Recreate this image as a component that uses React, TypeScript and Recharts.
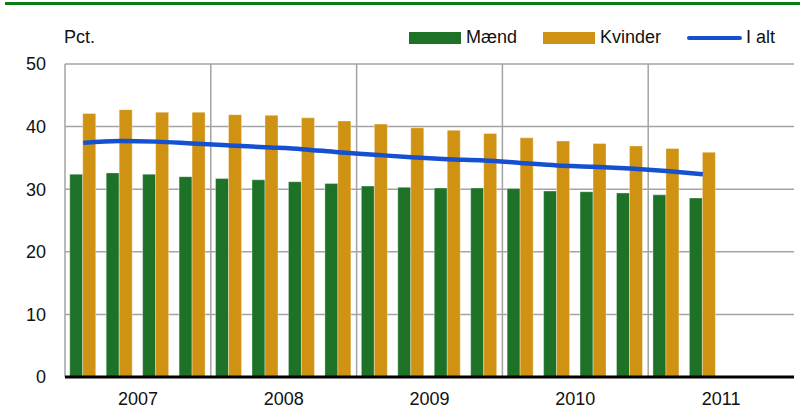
import React from 'react';
import { ComposedChart, Bar, Line, XAxis, YAxis, CartesianGrid, ReferenceLine } from 'recharts';

const YEARS = ['2007', '2008', '2009', '2010', '2011'];
const QUARTERS = YEARS.flatMap((y) => ['K1', 'K2', 'K3', 'K4'].map((q) => `${y}${q}`));

// andel i pct., kvartaler 2007K1 - 2011K2
const MAEND = [32.4, 32.6, 32.4, 32.0, 31.7, 31.5, 31.2, 30.9, 30.5, 30.3, 30.2, 30.2, 30.1, 29.7, 29.6, 29.4, 29.1, 28.6];
const KVINDER = [42.1, 42.7, 42.3, 42.3, 41.9, 41.8, 41.4, 40.9, 40.4, 39.8, 39.4, 38.9, 38.2, 37.7, 37.3, 36.9, 36.5, 35.9];
const I_ALT = [37.4, 37.7, 37.6, 37.3, 37.0, 36.7, 36.4, 35.9, 35.5, 35.1, 34.8, 34.6, 34.2, 33.8, 33.6, 33.3, 32.9, 32.4];

const Y_TICKS = [0, 10, 20, 30, 40, 50];

const GREEN = '#1e7228';
const ORANGE = '#cf9212';
const BLUE = '#1450d0';
const GRID = '#a3a3a3';
const FONT = '"Liberation Sans", Arial, sans-serif';

const data = QUARTERS.map((q, i) => ({
  q,
  maend: MAEND[i] ?? null,
  kvinder: KVINDER[i] ?? null,
  ialt: I_ALT[i] ?? null,
}));

// year label sits between K2 and K3, i.e. at the start of the K3 band
const yearTicks = YEARS.map((y) => `${y}K3`);
const yearStarts = YEARS.map((y) => `${y}K1`);

const YearTick = (props: any) => {
  const { x, y, payload } = props;
  return (
    <text x={x - (payload.offset ?? 0)} y={y} dy="0.71em" textAnchor="middle" fontSize={18} fill="#111" fontFamily={FONT}>
      {String(payload.value).slice(0, 4)}
    </text>
  );
};

const LegendItem = ({ color, label, line }: { color: string; label: string; line?: boolean }) => (
  <div style={{ display: 'flex', alignItems: 'center', marginRight: 26, whiteSpace: 'nowrap' }}>
    <div
      style={{
        width: line ? 55 : 52,
        height: line ? 4 : 12,
        borderRadius: line ? 2 : 0,
        background: color,
        marginRight: line ? 4 : 5,
      }}
    />
    <span style={{ fontSize: 18, color: '#111' }}>{label}</span>
  </div>
);

export default function App() {
  return (
    <div style={{ position: 'absolute', left: 0, top: 0, width: 800, height: 416, background: '#fff', fontFamily: FONT }}>
      <div style={{ position: 'absolute', left: 5, top: 2, width: 795, height: 3, background: '#0b7a12' }} />
      <div style={{ position: 'absolute', left: 64, top: 27, fontSize: 18, color: '#111' }}>Pct.</div>
      <div style={{ position: 'absolute', left: 409, top: 27, display: 'flex', whiteSpace: 'nowrap' }}>
        <LegendItem color={GREEN} label="Mænd" />
        <LegendItem color={ORANGE} label="Kvinder" />
        <LegendItem color={BLUE} label="I alt" line />
      </div>
      <ComposedChart
        width={800}
        height={416}
        data={data}
        margin={{ top: 64, right: 6, bottom: 0, left: 0 }}
        barCategoryGap="13%"
        barGap={0}
      >
        <CartesianGrid vertical={false} stroke={GRID} strokeWidth={1.5} />
        <XAxis
          dataKey="q"
          ticks={yearTicks}
          interval={0}
          height={39}
          tickSize={0}
          tickMargin={15}
          tickLine={false}
          axisLine={{ stroke: '#000', strokeWidth: 3 }}
          tick={<YearTick />}
        />
        <YAxis
          domain={[0, 50]}
          ticks={Y_TICKS}
          width={65}
          tickSize={0}
          tickMargin={19}
          axisLine={false}
          tickLine={false}
          tick={{ fontSize: 18, fill: '#111', fontFamily: FONT }}
        />
        {yearStarts.map((x) => (
          <ReferenceLine key={x} x={x} position="start" stroke={GRID} strokeWidth={1.5} />
        ))}
        <ReferenceLine x={QUARTERS[QUARTERS.length - 1]} position="end" stroke={GRID} strokeWidth={1.5} />
        <Bar dataKey="maend" name="Mænd" fill={GREEN} stroke="#ffffff" strokeOpacity={0.35} isAnimationActive={false} />
        <Bar dataKey="kvinder" name="Kvinder" fill={ORANGE} stroke="#ffffff" strokeOpacity={0.35} isAnimationActive={false} />
        <Line
          type="monotone"
          dataKey="ialt"
          name="I alt"
          stroke={BLUE}
          strokeWidth={4.5}
          dot={false}
          isAnimationActive={false}
        />
      </ComposedChart>
    </div>
  );
}
